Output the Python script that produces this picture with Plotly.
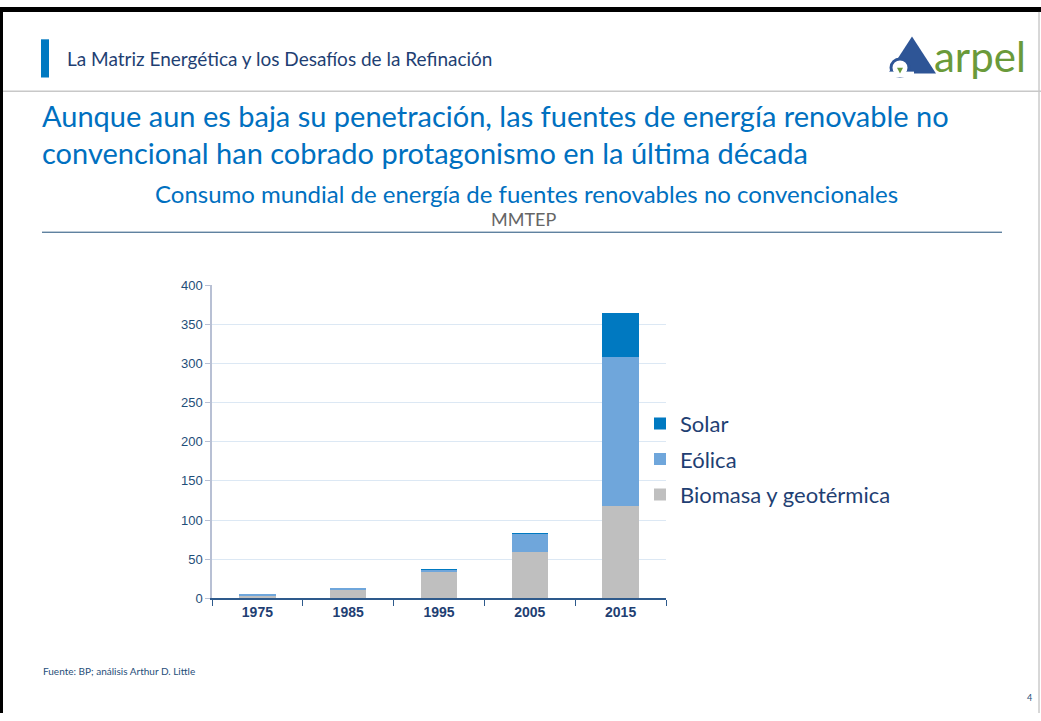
import plotly.graph_objects as go

W, H = 1041, 721

years = ["1975", "1985", "1995", "2005", "2015"]
biomasa = [4, 11, 34.5, 59, 118]
eolica = [0.3, 1, 2, 23.5, 190]
solar = [0, 0, 0.2, 0.5, 57]

y_ticks = [0, 50, 100, 150, 200, 250, 300, 350, 400]

BLUE = "#0070c0"
NAVY = "#1f3f73"
FONT = "Lato"


def px(x):
    return x / W


def py(y):
    return 1 - y / H


fig = go.Figure()
for rank, (name, vals, color) in enumerate([
    ("Biomasa y geotérmica", biomasa, "#bfbfbf"),
    ("Eólica", eolica, "#6fa6db"),
    ("Solar", solar, "#0079c1"),
]):
    fig.add_trace(go.Bar(
        x=years, y=vals, name=name, legendgroup=name, legendrank=10 - rank,
        marker=dict(color=color, line=dict(width=0)),
        hovertemplate="%{x}: %{y}<extra>" + name + "</extra>",
    ))

shapes = [
    # slide frame
    dict(type="rect", x0=0, x1=px(3), y0=0, y1=1, fillcolor="black", line_width=0),
    dict(type="rect", x0=0, x1=1, y0=py(5), y1=1, fillcolor="black", line_width=0),
    dict(type="line", x0=px(1039), x1=px(1039), y0=0, y1=py(5), line=dict(color="#b0b0b0", width=1)),
    # header
    dict(type="rect", x0=px(41), x1=px(49), y0=py(72), y1=py(33), fillcolor="#0079c1", line_width=0),
    dict(type="line", x0=px(3), x1=1, y0=py(86), y1=py(86), line=dict(color="#c8c8c8", width=1.5)),
    # rule under subtitle
    dict(type="line", x0=px(42), x1=px(1002), y0=py(230), y1=py(230), line=dict(color="#1f4e79", width=1)),
    # logo
    dict(type="path", path=f"M {px(888)} {py(68)} L {px(912)} {py(30)} L {px(936)} {py(68)} Z",
         fillcolor="#2e5596", line_width=0),
    dict(type="circle", x0=px(891), x1=px(909), y0=py(71), y1=py(53), fillcolor="white",
         line=dict(color="#2e5596", width=3)),
    dict(type="rect", x0=px(886), x1=px(914), y0=py(72), y1=py(66), fillcolor="white", line_width=0),
    dict(type="path", path=f"M {px(897)} {py(62)} L {px(903)} {py(62)} L {px(900)} {py(68)} Z",
         fillcolor="#6a9a3a", line_width=0),
]

annotations = [
    dict(text="La Matriz Energética y los Desafíos de la Refinación", x=px(65), y=py(53),
         xanchor="left", yanchor="middle", font=dict(size=19, color=NAVY, family=FONT)),
    dict(text="arpel", x=px(932), y=py(50), xanchor="left", yanchor="middle",
         font=dict(size=42, color="#6a9a3a", family=FONT)),
    dict(text="Aunque aun es baja su penetración, las fuentes de energía renovable no",
         x=px(40), y=py(111), xanchor="left", yanchor="middle",
         font=dict(size=29, color=BLUE, family=FONT)),
    dict(text="convencional han cobrado protagonismo en la última década",
         x=px(40), y=py(149), xanchor="left", yanchor="middle",
         font=dict(size=29, color=BLUE, family=FONT)),
    dict(text="Consumo mundial de energía de fuentes renovables no convencionales",
         x=px(526), y=py(190), xanchor="center", yanchor="middle",
         font=dict(size=24, color=BLUE, family=FONT)),
    dict(text="MMTEP", x=px(523), y=py(216), xanchor="center", yanchor="middle",
         font=dict(size=18, color="#666666", family=FONT)),
    dict(text="Fuente: BP; análisis Arthur D. Little", x=px(41), y=py(678),
         xanchor="left", yanchor="middle", font=dict(size=10, color="#1f4e79", family=FONT)),
    dict(text="4", x=px(1029), y=py(705), xanchor="center", yanchor="middle",
         font=dict(size=9, color="#1f4e79", family=FONT)),
]
for a in annotations:
    a.update(xref="paper", yref="paper", showarrow=False)
for s in shapes:
    s.update(xref="paper", yref="paper", layer="above")

fig.update_layout(
    autosize=True,
    margin=dict(l=0, r=0, t=0, b=0),
    paper_bgcolor="white", plot_bgcolor="white",
    barmode="stack", bargap=0.6,
    shapes=shapes, annotations=annotations,
    xaxis=dict(
        domain=[px(212), px(666)],
        showline=True, linecolor="#2e5a8c", linewidth=1.5,
        ticks="outside", tickson="boundaries", ticklen=6, tickcolor="#2e5a8c",
        tickfont=dict(family="Arial", size=14, color=NAVY, weight="bold"),
        showgrid=False,
    ),
    yaxis=dict(
        domain=[py(604), py(284)], range=[0, 400], tickvals=y_ticks,
        showline=True, linecolor="#b8c0d4", linewidth=1.5,
        ticks="outside", ticklen=5, tickcolor="#b8c0d4",
        tickfont=dict(family="Arial", size=13, color="#1f4e79"),
        gridcolor="#dce8f4", gridwidth=1, zeroline=False,
    ),
    showlegend=True,
    legend=dict(
        x=px(640), y=py(404), xanchor="left", yanchor="top",
        traceorder="grouped", tracegroupgap=4,
        font=dict(family=FONT, size=22, color=NAVY),
        bgcolor="rgba(0,0,0,0)", itemwidth=30,
    ),
)

fig.write_html(
    "out.html",
    config={"displayModeBar": False, "responsive": True},
    default_width="100vw",
    default_height="100vh",
    post_script="document.body.style.margin='0';document.body.style.overflow='hidden';",
)
